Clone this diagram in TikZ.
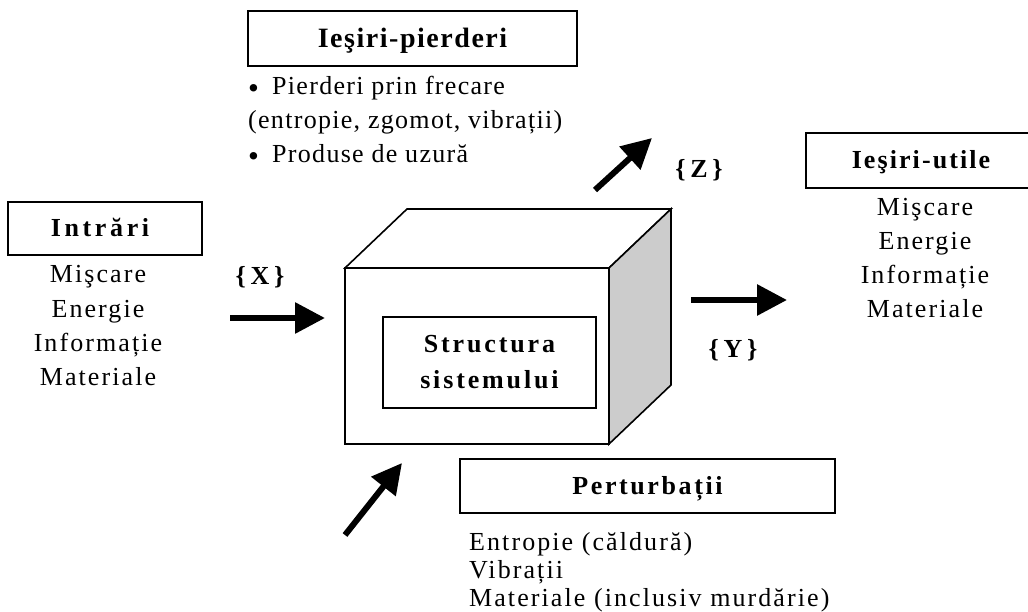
\documentclass[tikz,border=0pt]{standalone}
\usepackage{fontspec}
\setmainfont{Liberation Serif}
\newfontfamily\bodyfont{Liberation Serif}[LetterSpace=8]
\newfontfamily\headfont{Liberation Serif}[LetterSpace=10]
\usetikzlibrary{arrows.meta}

\newcommand{\dotitem}{\makebox[24pt][l]{\raisebox{-3.5pt}{\fontsize{31}{31}\selectfont\textbullet}}}

\begin{document}
\begin{tikzpicture}[x=1pt,y=-1pt,
  outline/.style={draw, line width=1.8pt, inner sep=0pt},
  frame/.style={outline, text height=17pt, text depth=0pt,
    font=\headfont\bfseries\fontsize{26}{30}\selectfont},
  label/.style={inner sep=0pt, anchor=base,
    font=\headfont\bfseries\addfontfeature{LetterSpace=18}\fontsize{26}{30}\selectfont},
  item/.style={inner sep=0pt, anchor=base, font=\bodyfont\fontsize{26}{30}\selectfont},
  itemleft/.style={item, anchor=base west},
  lossitem/.style={itemleft, font=\bodyfont\addfontfeature{LetterSpace=5}\fontsize{26}{30}\selectfont},
  edge/.style={line width=1.6pt, line join=miter},
  flow/.style={line width=6pt, -{Triangle[length=30pt,width=30pt]}},
]
\clip (0,0) rectangle (1028,612);

% --- the system: a box drawn in perspective ---
\coordinate (fTL) at (345,268);
\coordinate (fTR) at (609,268);
\coordinate (fBR) at (609,444);
\coordinate (fBL) at (345,444);
\coordinate (bTL) at (407,209);
\coordinate (bTR) at (671,209);
\coordinate (bBR) at (671,385);
\filldraw[edge, fill=white] (fTL) -- (bTL) -- (bTR) -- (fTR) -- cycle;
\filldraw[edge, fill=black!20] (fTR) -- (bTR) -- (bBR) -- (fBR) -- cycle;
\filldraw[edge, fill=white] (fTL) rectangle (fBR);

\node[outline, minimum width=213pt, minimum height=91pt, align=center,
  font=\headfont\bfseries\addfontfeature{LetterSpace=11}\fontsize{26}{36}\selectfont]
  (core) at (489.5,362.5) {Structura\\sistemului};

% --- inputs ---
\node[frame, minimum width=194pt, minimum height=53pt,
  font=\headfont\bfseries\addfontfeature{LetterSpace=14}\fontsize{26}{30}\selectfont]
  (inhead) at (105,228.5) {Intrări\hspace*{10pt}};
\node[item] (in1) at (98,283) {Mişcare};
\node[item] (in2) at (98,317) {Energie};
\node[item] (in3) at (98,351) {Informație};
\node[item] (in4) at (98,385) {Materiale};

\coordinate (xs) at (230,318);
\coordinate (xe) at (325,318);
\draw[flow] (xs) -- (xe);
\node[label] (xlab) at (260,285) {\{X\}};

% --- losses ---
\node[frame, minimum width=329pt, minimum height=55pt, text height=18.5pt,
  font=\headfont\bfseries\addfontfeature{LetterSpace=5.5}\fontsize{28}{32}\selectfont]
  (losshead) at (412.5,38.5) {Ieşiri-pierderi};
\node[lossitem] (loss1) at (248,95) {\dotitem Pierderi prin frecare};
\node[lossitem] (loss2) at (248,129) {(entropie, zgomot, vibrații)};
\node[lossitem] (loss3) at (248,163) {\dotitem Produse de uzură};

\coordinate (zs) at (595,190);
\coordinate (ze) at (652,138);
\draw[flow] (zs) -- (ze);
\node[label] (zlab) at (699,178) {\{Z\}};

% --- useful outputs ---
\node[frame, minimum width=230pt, minimum height=55pt,
  font=\headfont\bfseries\addfontfeature{LetterSpace=8}\fontsize{26}{30}\selectfont]
  (outhead) at (921,160.5) {Ieşiri-utile};
\node[item] (out1) at (925,216) {Mişcare};
\node[item] (out2) at (925,250) {Energie};
\node[item] (out3) at (925,284) {Informație};
\node[item] (out4) at (925,318) {Materiale};

\coordinate (ys) at (691,300);
\coordinate (ye) at (787,300);
\draw[flow] (ys) -- (ye);
\node[label] (ylab) at (733,357) {\{Y\}};

% --- disturbances ---
\node[frame, minimum width=375pt, minimum height=54pt] (perthead) at (647.5,486) {Perturbații};
\node[itemleft] (pert1) at (469,550) {Entropie (căldură)};
\node[itemleft] (pert2) at (469,578) {Vibrații};
\node[itemleft] (pert3) at (469,606) {Materiale (inclusiv murdărie)};

\coordinate (ps) at (345,535);
\coordinate (pe) at (402,463);
\draw[flow] (ps) -- (pe);
\end{tikzpicture}
\end{document}
